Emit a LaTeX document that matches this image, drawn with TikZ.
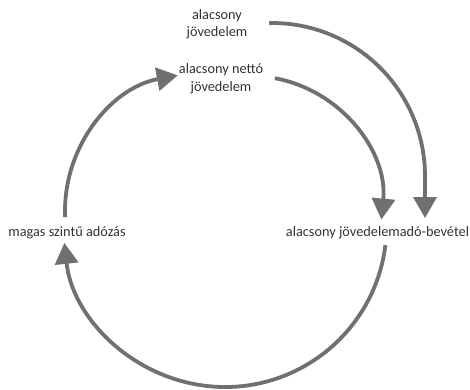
\documentclass[tikz,border=0pt]{standalone}
\usepackage{fontspec}
\setmainfont{Carlito}
\usetikzlibrary{arrows.meta}
\definecolor{arcgray}{RGB}{112,112,112}
\definecolor{txt}{RGB}{50,50,50}
\begin{document}
\begin{tikzpicture}[x=1pt,y=1pt,
  lbl/.style={font=\fontsize{14.3}{17.5}\selectfont, text=txt, align=center, inner sep=0pt},
  cyc/.style={draw=arcgray, line width=3.8pt, -{Triangle[length=21pt,width=23pt]}}]
\useasboundingbox (0,0) rectangle (470,389);
% arc centres
\coordinate (cl) at (204,178);
\coordinate (cr) at (251,182);
\coordinate (cb) at (225,163.6);
\coordinate (co) at (272,213);
% labels
\node[lbl] (inc) at (217,364.5) {alacsony\\jövedelem};
\node[lbl] (net) at (221,310) {alacsony nettó\\jövedelem};
\node[lbl] (tax) at (67,156) {magas szintű adózás};
\node[lbl] (rev) at (377.5,156) {alacsony jövedelemadó-bevétel};
% arc start points
\coordinate (s1) at ([shift={(182.5:139)}]cl);
\coordinate (s2) at ([shift={(79.5:131)}]cr);
\coordinate (s3) at ([shift={(-7:161.6)}]cb);
\coordinate (s4) at ([shift={(91.1:153)}]co);
\coordinate (t4) at (425,171);
\draw[cyc] (s1) arc[start angle=182.5, end angle=100.5, radius=138];
\draw[cyc] (s2) arc[start angle=79.5, end angle=-5.5, radius=131];
\draw[cyc] (s3) arc[start angle=-7, end angle=-173.8, radius=161.6];
\draw[cyc] (s4) arc[start angle=91.1, end angle=0, radius=153] -- (t4);
\end{tikzpicture}
\end{document}
